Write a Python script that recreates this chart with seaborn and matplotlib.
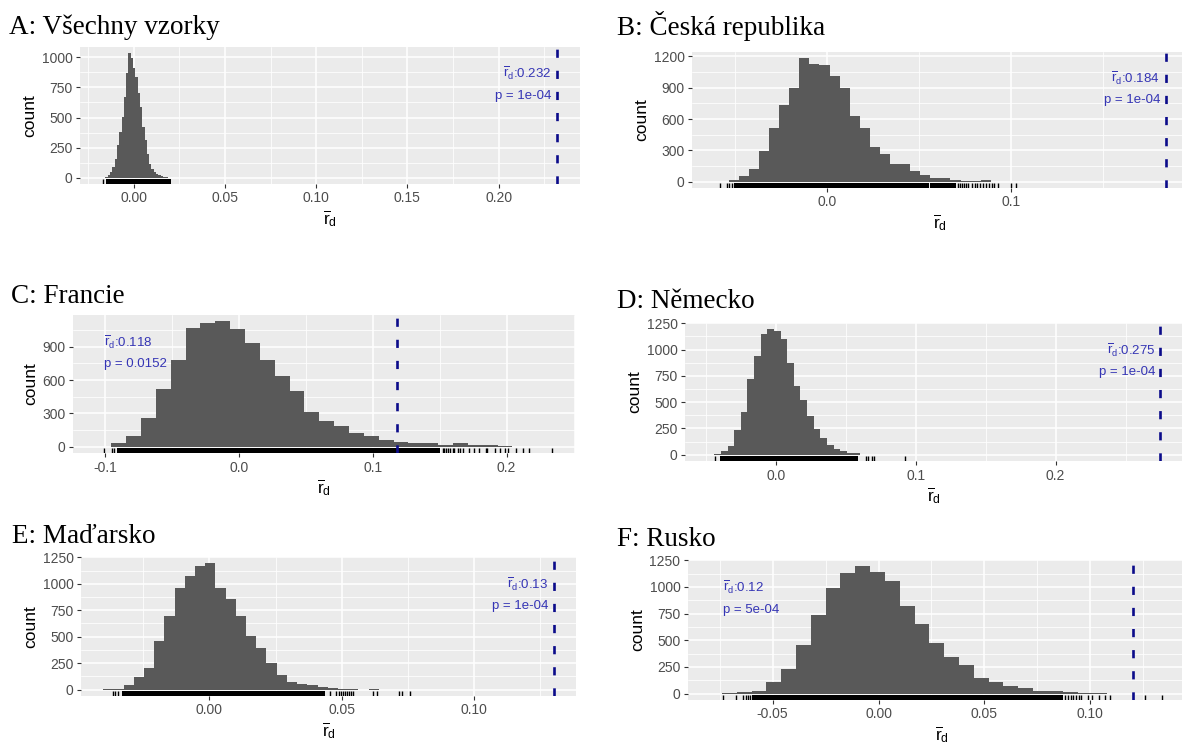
import numpy as np
import pandas as pd
import matplotlib
matplotlib.use("Agg")
import matplotlib.pyplot as plt
import seaborn as sns
from matplotlib.ticker import MultipleLocator, FuncFormatter

# ---------------- data ----------------
panel_titles = ["A: Všechny vzorky", "B: Česká republika", "C: Francie",
                "D: Německo", "E: Maďarsko", "F: Rusko"]
observed_rd = [0.232, 0.184, 0.118, 0.275, 0.13, 0.12]
observed_labels = ["0.232", "0.184", "0.118", "0.275", "0.13", "0.12"]
p_values = ["1e-04", "1e-04", "0.0152", "1e-04", "1e-04", "5e-04"]

bin_start = [-0.0168, -0.0590, -0.1065, -0.0488, -0.0400, -0.0740]
bin_width = [0.00126, 0.00548, 0.0111, 0.00474, 0.00385, 0.0070]

counts_A = [1, 3, 20, 47, 89, 158, 270, 381, 506, 673, 867, 1034, 992, 909, 839,
            700, 589, 422, 311, 200, 117, 75, 47, 28, 19, 11, 6, 3, 2, 1]
counts_B = [3, 22, 53, 125, 291, 517, 736, 893, 1181, 1128, 1112, 1009, 893, 633, 517,
            335, 266, 166, 166, 100, 63, 38, 38, 22, 10, 10, 22, 1, 1, 1]
counts_C = [2, 30, 98, 260, 520, 784, 1069, 1117, 1130, 1060, 938, 784, 633, 505, 315,
            234, 186, 120, 95, 58, 44, 30, 30, 18, 32, 18, 18, 4, 2, 2]
counts_D = [1, 3, 38, 85, 231, 402, 718, 943, 1149, 1193, 1181, 1098, 877, 649, 522,
            364, 244, 158, 95, 54, 32, 16, 14, 2, 2, 0, 0, 0, 0, 1]
counts_E = [2, 5, 47, 117, 206, 459, 696, 959, 1076, 1165, 1193, 956, 855, 696, 506,
            389, 253, 142, 70, 54, 41, 25, 16, 5, 3, 0, 2, 0, 1, 1]
counts_F = [2, 12, 25, 111, 229, 455, 741, 986, 1135, 1193, 1138, 1059, 820, 652, 477,
            340, 264, 149, 111, 70, 54, 29, 22, 16, 3, 3, 1, 0, 1, 1]

rug_dense_A = [(-0.0152, 0.0203)]
rug_points_A = [-0.0167]
rug_dense_B = [(-0.0505, 0.0551), (0.0558, 0.0700)]
rug_points_B = [-0.0585, -0.0545, -0.0532, -0.0519, 0.0710, 0.0720, 0.0735, 0.0745,
                0.0755, 0.0765, 0.0790, 0.0805, 0.0815, 0.0830, 0.0845, 0.0865,
                0.0880, 0.0895, 0.0905, 0.0927, 0.1000, 0.1027]
rug_dense_C = [(-0.0911, 0.1504)]
rug_points_C = [-0.1006, -0.0946, -0.0936, 0.1524, 0.1535, 0.1549, 0.1562, 0.1574,
                0.1599, 0.1610, 0.1635, 0.1648, 0.1673, 0.1718, 0.1760, 0.1793,
                0.1843, 0.1855, 0.1910, 0.1947, 0.1985, 0.2010, 0.2072, 0.2122,
                0.2171, 0.2340]
rug_dense_D = [(-0.0400, 0.0588)]
rug_points_D = [-0.0436, 0.0643, 0.0660, 0.0686, 0.0700, 0.0921]
rug_dense_E = [(-0.0329, 0.0437)]
rug_points_E = [-0.0363, -0.0354, -0.0345, 0.0456, 0.0479, 0.0490, 0.0496, 0.0506,
                0.0512, 0.0519, 0.0528, 0.0536, 0.0544, 0.0619, 0.0632, 0.0715,
                0.0728, 0.0758]
rug_dense_F = [(-0.0597, 0.0872)]
rug_points_F = [-0.0736, -0.0673, -0.0641, -0.0625, -0.0615, -0.0605, 0.0882, 0.0895,
                0.0908, 0.0920, 0.0933, 0.0947, 0.0958, 0.0990, 0.1010, 0.1042,
                0.1069, 0.1093, 0.1258, 0.1337]

x_breaks = [0.05, 0.1, 0.1, 0.1, 0.05, 0.05]
x_decimals = [2, 1, 1, 1, 2, 2]
y_breaks = [250, 300, 300, 250, 250, 250]

all_counts = [counts_A, counts_B, counts_C, counts_D, counts_E, counts_F]
all_dense = [rug_dense_A, rug_dense_B, rug_dense_C, rug_dense_D, rug_dense_E, rug_dense_F]
all_points = [rug_points_A, rug_points_B, rug_points_C, rug_points_D, rug_points_E, rug_points_F]

# ---------------- layout ----------------
W, H = 1182, 749
panel_px = [(80, 580, 47, 184), (692, 1188, 52, 188), (73, 575, 315, 453),
            (685, 1183, 323, 461), (81, 576, 557, 696), (688, 1195, 560, 700)]
xlims = [(-0.0295, 0.2446), (-0.0735, 0.1962), (-0.1240, 0.2511),
         (-0.0650, 0.2911), (-0.0484, 0.1384), (-0.0900, 0.1495)]
title_pos = [(9, 34), (617, 35), (11, 303), (617, 308), (12, 543), (617, 546)]
annot_side = ["right", "right", "left", "right", "right", "left"]

sns.set_style("darkgrid", {"axes.facecolor": "#EBEBEB", "grid.color": "white"})
plt.rcParams["font.family"] = ["Liberation Sans", "DejaVu Sans"]
plt.rcParams["mathtext.fontset"] = "custom"
plt.rcParams["mathtext.rm"] = "Liberation Sans"
plt.rcParams["mathtext.it"] = "Liberation Sans:italic"
plt.rcParams["mathtext.bf"] = "Liberation Sans:bold"
plt.rcParams["axes.unicode_minus"] = False

fig = plt.figure(figsize=(W / 100, H / 100), dpi=100)
fig.patch.set_facecolor("white")

RUG_H = 0.037
BAR_COLOR = "#595959"
LINE_COLOR = "#0B0B8A"
TEXT_COLOR = "#3535B5"
rd_label = r"$\overline{\mathrm{r}}_{\mathrm{d}}$"


def make_fmt(d):
    def f(v, _):
        if abs(v) < 1e-12:
            v = 0.0
        return f"{v:.{d}f}"
    return f


for i in range(6):
    l, r, t, b = panel_px[i]
    ax = fig.add_axes([l / W, 1 - b / H, (r - l) / W, (b - t) / H])
    counts = all_counts[i]
    edges = bin_start[i] + bin_width[i] * np.arange(len(counts) + 1)
    centers = (edges[:-1] + edges[1:]) / 2
    df = pd.DataFrame({"rd": centers, "n": counts})
    sns.histplot(data=df, x="rd", weights="n", bins=[float(e) for e in edges],
                 color=BAR_COLOR, alpha=1, edgecolor="none", linewidth=0, ax=ax,
                 zorder=2)
    for lo, hi in all_dense[i]:
        ax.axvspan(lo, hi, ymin=0, ymax=RUG_H, color="black", lw=0, zorder=3)
    sns.rugplot(x=all_points[i], height=RUG_H, color="black", lw=1.3, ax=ax,
                expand_margins=False, zorder=3)
    ax.axvline(observed_rd[i], color=LINE_COLOR, lw=1.9, linestyle=(0, (3.1, 4.9)),
               zorder=4)

    M = max(counts)
    ax.set_ylim(-0.05 * M, 1.05 * M)
    ax.set_xlim(*xlims[i])

    # annotation
    if annot_side[i] == "right":
        xa, ha, off = observed_rd[i], "right", -4
    else:
        xa = min(all_points[i] + [d[0] for d in all_dense[i]])
        ha, off = "left", 0
    ax.annotate(rd_label + ":" + observed_labels[i], (xa, 0.835 * M), xytext=(off, 0),
                textcoords="offset points", ha=ha, va="center", color=TEXT_COLOR,
                fontsize=9.5, zorder=5)
    ax.annotate("p = " + p_values[i], (xa, 0.66 * M), xytext=(off, 0),
                textcoords="offset points", ha=ha, va="center", color=TEXT_COLOR,
                fontsize=9.5, zorder=5)

    # axes styling
    ax.xaxis.set_major_locator(MultipleLocator(x_breaks[i]))
    ax.xaxis.set_minor_locator(MultipleLocator(x_breaks[i] / 2))
    ax.xaxis.set_major_formatter(FuncFormatter(make_fmt(x_decimals[i])))
    ax.yaxis.set_major_locator(MultipleLocator(y_breaks[i]))
    ax.yaxis.set_minor_locator(MultipleLocator(y_breaks[i] / 2))
    ax.yaxis.set_major_formatter(FuncFormatter(make_fmt(0)))
    ax.set_axisbelow(True)
    ax.grid(which="major", color="white", lw=1.1)
    ax.grid(which="minor", color="white", lw=0.55)
    ax.tick_params(which="major", length=3.2, width=0.8, color="#333333",
                   labelcolor="#4D4D4D", labelsize=10, pad=2.2,
                   bottom=True, left=True)
    ax.tick_params(which="minor", length=0)
    for s in ax.spines.values():
        s.set_visible(False)
    ax.set_ylabel("count", fontsize=12.5, color="black", labelpad=3)
    ax.set_xlabel(rd_label, fontsize=12.5, color="black", labelpad=2)

    tx, ty = title_pos[i]
    fig.text(tx / W, 1 - ty / H, panel_titles[i], family="Liberation Serif",
             fontsize=19.5, va="baseline", ha="left", color="black")

fig.savefig("out.png", dpi=100, facecolor="white")
